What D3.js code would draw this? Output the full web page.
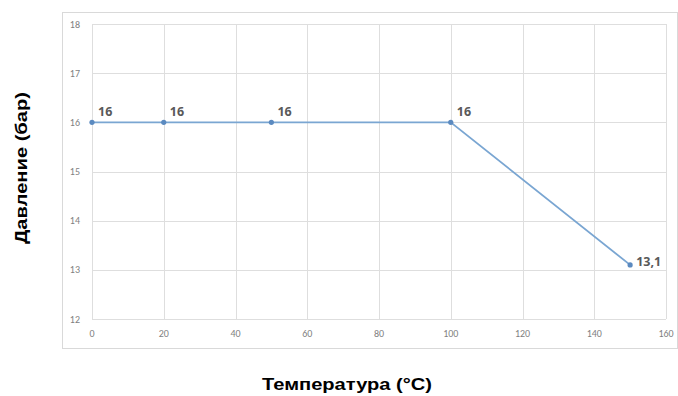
<!DOCTYPE html>
<html><head><meta charset="utf-8">
<script src="https://cdn.jsdelivr.net/npm/d3@7"></script>
<style>body{margin:0;background:#fff}svg{display:block}</style>
</head><body>
<svg id="c" width="678" height="396"></svg>
<script>
const temps = [0, 20, 50, 100, 150];
const pressures = [16, 16, 16, 16, 13.1];
const labels = ["16", "16", "16", "16", "13,1"];
const xTicks = [0, 20, 40, 60, 80, 100, 120, 140, 160];
const yTicks = [12, 13, 14, 15, 16, 17, 18];

const svg = d3.select("#c");
svg.append("rect").attr("x", 62.5).attr("y", 12.5).attr("width", 615).attr("height", 336)
  .attr("fill", "#fff").attr("stroke", "#d9d9d9");

const x = d3.scaleLinear().domain([0, 160]).range([92, 666]);
const y = d3.scaleLinear().domain([12, 18]).range([319, 24]);

const g = svg.append("g");
g.selectAll(".gy").data(yTicks).join("line")
  .attr("x1", x(0)).attr("x2", x(160)).attr("y1", d => Math.round(y(d)) + 0.5).attr("y2", d => Math.round(y(d)) + 0.5)
  .attr("stroke", "#dedede");
g.selectAll(".gx").data(xTicks).join("line")
  .attr("y1", y(18)).attr("y2", y(12)).attr("x1", d => Math.round(x(d)) + 0.5).attr("x2", d => Math.round(x(d)) + 0.5)
  .attr("stroke", "#dedede");

const tickFont = "Carlito, 'Open Sans', 'Liberation Sans', sans-serif";
g.selectAll(".ty").data(yTicks).join("text")
  .attr("x", 80).attr("y", d => y(d) + 3.5).attr("text-anchor", "end")
  .attr("font-family", tickFont).attr("font-size", 10).attr("fill", "#7f7f7f").text(d => d);
g.selectAll(".tx").data(xTicks).join("text")
  .attr("x", d => x(d)).attr("y", 337).attr("text-anchor", "middle")
  .attr("font-family", tickFont).attr("font-size", 10).attr("fill", "#7f7f7f").text(d => d);

const pts = temps.map((t, i) => ({t, p: pressures[i], l: labels[i]}));
g.append("path").datum(pts)
  .attr("d", d3.line().x(d => x(d.t)).y(d => y(d.p)))
  .attr("fill", "none").attr("stroke", "#7aa6d2").attr("stroke-width", 1.8);
g.selectAll(".pt").data(pts).join("circle")
  .attr("cx", d => x(d.t)).attr("cy", d => y(d.p)).attr("r", 2.6).attr("fill", "#5b8ac0");
g.selectAll(".dl").data(pts).join("text")
  .attr("x", d => x(d.t) + 6).attr("y", d => y(d.p) - (d.p === 16 ? 6 : -1))
  .attr("font-family", "'Open Sans', 'Liberation Sans', sans-serif").attr("font-weight", "bold")
  .attr("font-size", 12.5).attr("fill", "#595959").text(d => d.l);

svg.append("text").attr("transform", "translate(27,168) rotate(-90)").attr("text-anchor", "middle")
  .attr("font-family", "'Liberation Sans', Arial, sans-serif").attr("font-weight", "bold")
  .attr("font-size", 17).attr("fill", "#000")
  .attr("textLength", 152).attr("lengthAdjust", "spacingAndGlyphs").text("Давление (бар)");
svg.append("text").attr("x", 347).attr("y", 390).attr("text-anchor", "middle")
  .attr("font-family", "'Liberation Sans', Arial, sans-serif").attr("font-weight", "bold")
  .attr("font-size", 17).attr("fill", "#000")
  .attr("textLength", 170).attr("lengthAdjust", "spacingAndGlyphs").text("Температура (°C)");
</script>
</body></html>
